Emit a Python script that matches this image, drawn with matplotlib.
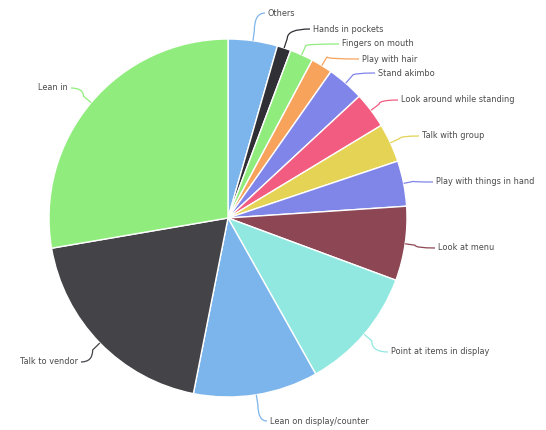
import numpy as np
import matplotlib.pyplot as plt
from matplotlib.path import Path
from matplotlib.patches import PathPatch

# datos (porcentaje aproximado de cada comportamiento)
categorias = ["Others", "Hands in pockets", "Fingers on mouth", "Play with hair",
              "Stand akimbo", "Look around while standing", "Talk with group",
              "Play with things in hand", "Look at menu", "Point at items in display",
              "Lean on display/counter", "Talk to vendor", "Lean in"]
valores = [4.45, 1.25, 2.1, 1.95, 3.35, 3.25, 3.5, 4.1, 6.7, 11.2, 11.25, 19.2, 27.7]
colores = ["#7cb5ec", "#2f2f35", "#90ed7d", "#f7a35c", "#8085e9", "#f15c80",
           "#e4d354", "#8085e8", "#8d4653", "#91e8e1", "#7cb5ec", "#434348", "#90ed7d"]

# posicion de las etiquetas en pixeles (x, y desde arriba)
pos_etiquetas = [(268, 13), (313, 29), (342, 44), (362, 59), (378, 73), (401, 100),
                 (422, 136), (436, 182), (438, 248), (391, 352), (270, 421),
                 (78, 362), (68, 88)]

W, H = 546, 430
cx, cy, r = 228, H - 218, 179

fig = plt.figure(figsize=(W / 100, H / 100), dpi=100)
ax = fig.add_axes([0, 0, 1, 1])
ax.pie(valores, colors=colores, startangle=90, counterclock=False,
       center=(cx, cy), radius=r,
       wedgeprops=dict(edgecolor="white", linewidth=1.0))
ax.set_xlim(0, W)
ax.set_ylim(0, H)
ax.set_aspect("equal")
ax.axis("off")

# conectores y textos
total = sum(valores)
acum = np.cumsum([0] + valores)
for i, nombre in enumerate(categorias):
    medio = (acum[i] + acum[i + 1]) / 2 / total * 2 * np.pi
    ex, ey = cx + r * np.sin(medio), cy + r * np.cos(medio)
    bx, by = cx + (r + 10) * np.sin(medio), cy + (r + 10) * np.cos(medio)
    tx, ty = pos_etiquetas[i]
    ty = H - ty
    izquierda = tx < cx
    lx = tx + 3 if izquierda else tx - 3
    verts = [(lx, ty), (bx, ty), (bx, by), (ex, ey)]
    codes = [Path.MOVETO, Path.CURVE3, Path.CURVE3, Path.LINETO]
    ax.add_patch(PathPatch(Path(verts, codes), facecolor="none",
                           edgecolor=colores[i], linewidth=0.9))
    ax.text(tx, ty, nombre, fontsize=5.9, color="#4a4a4a",
            ha="right" if izquierda else "left", va="center")

plt.savefig("out.png", dpi=100)
